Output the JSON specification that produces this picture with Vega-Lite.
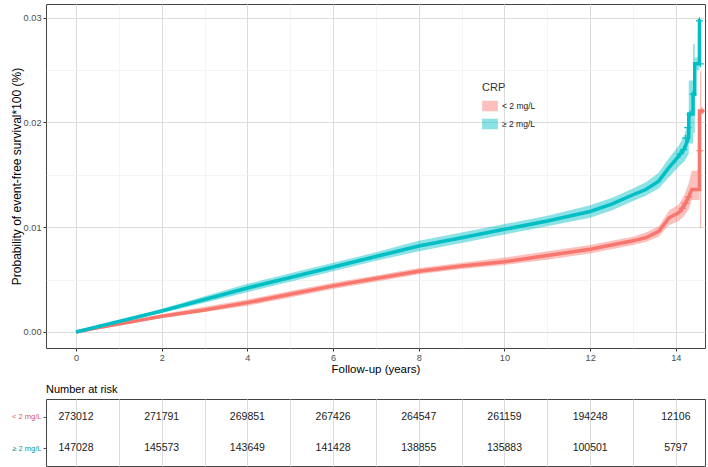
{
  "$schema": "https://vega.github.io/schema/vega-lite/v6.json",
  "background": "white",
  "padding": {"left": 9, "top": 3, "right": 1, "bottom": 0},
  "config": {
    "font": "Liberation Sans",
    "view": {"stroke": "#444444", "strokeWidth": 1},
    "axis": {"labelFont": "Liberation Sans", "titleFont": "Liberation Sans", "labelColor": "#4d4d4d", "titleColor": "#000000", "titleFontWeight": "normal", "labelFontSize": 9.2, "titleFontSize": 11.5, "tickColor": "#333333", "tickSize": 3, "labelPadding": 2, "domain": false},
    "concat": {"spacing": 7}
  },
  "datasets": {
    "curve": [
      {"group": "< 2 mg/L", "t": 0, "est": 0, "lo": 0, "hi": 0},
      {"group": "< 2 mg/L", "t": 0.5, "est": 0.0004, "lo": 0.00035, "hi": 0.00045},
      {"group": "< 2 mg/L", "t": 1, "est": 0.00075, "lo": 0.00065, "hi": 0.00085},
      {"group": "< 2 mg/L", "t": 2, "est": 0.0015, "lo": 0.0013, "hi": 0.0017},
      {"group": "< 2 mg/L", "t": 3, "est": 0.0021, "lo": 0.0019, "hi": 0.0024},
      {"group": "< 2 mg/L", "t": 4, "est": 0.0028, "lo": 0.0025, "hi": 0.0031},
      {"group": "< 2 mg/L", "t": 5, "est": 0.0036, "lo": 0.0033, "hi": 0.0039},
      {"group": "< 2 mg/L", "t": 6, "est": 0.0044, "lo": 0.0041, "hi": 0.0047},
      {"group": "< 2 mg/L", "t": 7, "est": 0.0051, "lo": 0.0048, "hi": 0.0054},
      {"group": "< 2 mg/L", "t": 8, "est": 0.0058, "lo": 0.0055, "hi": 0.0061},
      {"group": "< 2 mg/L", "t": 9, "est": 0.0063, "lo": 0.006, "hi": 0.0066},
      {"group": "< 2 mg/L", "t": 10, "est": 0.0067, "lo": 0.0064, "hi": 0.0071},
      {"group": "< 2 mg/L", "t": 11, "est": 0.0073, "lo": 0.0069, "hi": 0.0077},
      {"group": "< 2 mg/L", "t": 12, "est": 0.0079, "lo": 0.0075, "hi": 0.0083},
      {"group": "< 2 mg/L", "t": 12.5, "est": 0.0083, "lo": 0.0079, "hi": 0.0087},
      {"group": "< 2 mg/L", "t": 13, "est": 0.0087, "lo": 0.0083, "hi": 0.0091},
      {"group": "< 2 mg/L", "t": 13.3, "est": 0.009, "lo": 0.0086, "hi": 0.0095},
      {"group": "< 2 mg/L", "t": 13.6, "est": 0.0096, "lo": 0.0091, "hi": 0.0101},
      {"group": "< 2 mg/L", "t": 13.75, "est": 0.0104, "lo": 0.0098, "hi": 0.011},
      {"group": "< 2 mg/L", "t": 13.84, "est": 0.0109, "lo": 0.0102, "hi": 0.0116},
      {"group": "< 2 mg/L", "t": 14.07, "est": 0.0114, "lo": 0.0106, "hi": 0.0122},
      {"group": "< 2 mg/L", "t": 14.2, "est": 0.0121, "lo": 0.0111, "hi": 0.0131},
      {"group": "< 2 mg/L", "t": 14.3, "est": 0.0129, "lo": 0.0117, "hi": 0.0142},
      {"group": "< 2 mg/L", "t": 14.37, "est": 0.0136, "lo": 0.0126, "hi": 0.0154},
      {"group": "< 2 mg/L", "t": 14.55, "est": 0.0136, "lo": 0.0126, "hi": 0.0154},
      {"group": "< 2 mg/L", "t": 14.551, "est": 0.0211, "lo": 0.0211, "hi": 0.0211},
      {"group": "< 2 mg/L", "t": 14.66, "est": 0.0211, "lo": 0.0211, "hi": 0.0211},
      {"group": "≥ 2 mg/L", "t": 0, "est": 0, "lo": 0, "hi": 0},
      {"group": "≥ 2 mg/L", "t": 0.5, "est": 0.0005, "lo": 0.00045, "hi": 0.00055},
      {"group": "≥ 2 mg/L", "t": 1, "est": 0.001, "lo": 0.0009, "hi": 0.0011},
      {"group": "≥ 2 mg/L", "t": 2, "est": 0.002, "lo": 0.0018, "hi": 0.0022},
      {"group": "≥ 2 mg/L", "t": 3, "est": 0.0031, "lo": 0.0028, "hi": 0.0034},
      {"group": "≥ 2 mg/L", "t": 4, "est": 0.0042, "lo": 0.0038, "hi": 0.0046},
      {"group": "≥ 2 mg/L", "t": 5, "est": 0.0052, "lo": 0.0048, "hi": 0.0056},
      {"group": "≥ 2 mg/L", "t": 6, "est": 0.0062, "lo": 0.0058, "hi": 0.0066},
      {"group": "≥ 2 mg/L", "t": 7, "est": 0.0072, "lo": 0.0068, "hi": 0.0076},
      {"group": "≥ 2 mg/L", "t": 8, "est": 0.0082, "lo": 0.0077, "hi": 0.0087},
      {"group": "≥ 2 mg/L", "t": 9, "est": 0.009, "lo": 0.0085, "hi": 0.0095},
      {"group": "≥ 2 mg/L", "t": 10, "est": 0.0098, "lo": 0.0093, "hi": 0.0103},
      {"group": "≥ 2 mg/L", "t": 11, "est": 0.0106, "lo": 0.0101, "hi": 0.0111},
      {"group": "≥ 2 mg/L", "t": 12, "est": 0.0115, "lo": 0.0109, "hi": 0.0121},
      {"group": "≥ 2 mg/L", "t": 12.5, "est": 0.0122, "lo": 0.0116, "hi": 0.0128},
      {"group": "≥ 2 mg/L", "t": 13, "est": 0.0131, "lo": 0.0125, "hi": 0.0137},
      {"group": "≥ 2 mg/L", "t": 13.3, "est": 0.0136, "lo": 0.013, "hi": 0.0143},
      {"group": "≥ 2 mg/L", "t": 13.6, "est": 0.0144, "lo": 0.0137, "hi": 0.0152},
      {"group": "≥ 2 mg/L", "t": 13.84, "est": 0.0157, "lo": 0.0148, "hi": 0.0166},
      {"group": "≥ 2 mg/L", "t": 14.07, "est": 0.0168, "lo": 0.0158, "hi": 0.0178},
      {"group": "≥ 2 mg/L", "t": 14.2, "est": 0.0175, "lo": 0.0163, "hi": 0.0188},
      {"group": "≥ 2 mg/L", "t": 14.3, "est": 0.0186, "lo": 0.017, "hi": 0.0203},
      {"group": "≥ 2 mg/L", "t": 14.301, "est": 0.0208, "lo": 0.018, "hi": 0.024},
      {"group": "≥ 2 mg/L", "t": 14.4, "est": 0.0208, "lo": 0.018, "hi": 0.024},
      {"group": "≥ 2 mg/L", "t": 14.401, "est": 0.0227, "lo": 0.019, "hi": 0.0275},
      {"group": "≥ 2 mg/L", "t": 14.44, "est": 0.0227, "lo": 0.019, "hi": 0.0275},
      {"group": "≥ 2 mg/L", "t": 14.441, "est": 0.0256, "lo": 0.025, "hi": 0.0262},
      {"group": "≥ 2 mg/L", "t": 14.55, "est": 0.0256, "lo": 0.025, "hi": 0.0262},
      {"group": "≥ 2 mg/L", "t": 14.551, "est": 0.0297, "lo": 0.0297, "hi": 0.0297},
      {"group": "≥ 2 mg/L", "t": 14.58, "est": 0.0297, "lo": 0.0297, "hi": 0.0297}
    ],
    "censor": [
      {"group": "< 2 mg/L", "t": 14.15, "v": 0.0118},
      {"group": "< 2 mg/L", "t": 14.22, "v": 0.0123},
      {"group": "< 2 mg/L", "t": 14.3, "v": 0.0129},
      {"group": "< 2 mg/L", "t": 14.56, "v": 0.0173},
      {"group": "< 2 mg/L", "t": 14.61, "v": 0.0211},
      {"group": "≥ 2 mg/L", "t": 14.1, "v": 0.017},
      {"group": "≥ 2 mg/L", "t": 14.18, "v": 0.0174},
      {"group": "≥ 2 mg/L", "t": 14.23, "v": 0.0185},
      {"group": "≥ 2 mg/L", "t": 14.28, "v": 0.0195},
      {"group": "≥ 2 mg/L", "t": 14.33, "v": 0.0208},
      {"group": "≥ 2 mg/L", "t": 14.4, "v": 0.0227},
      {"group": "≥ 2 mg/L", "t": 14.55, "v": 0.0297},
      {"group": "≥ 2 mg/L", "t": 14.57, "v": 0.0256}
    ],
    "ciend": [
      {"group": "< 2 mg/L", "t": 14.58, "lo": 0.0099, "hi": 0.0249}
    ],
    "risk": [
      {"group": "< 2 mg/L", "t": 0, "n": "273012"},
      {"group": "< 2 mg/L", "t": 2, "n": "271791"},
      {"group": "< 2 mg/L", "t": 4, "n": "269851"},
      {"group": "< 2 mg/L", "t": 6, "n": "267426"},
      {"group": "< 2 mg/L", "t": 8, "n": "264547"},
      {"group": "< 2 mg/L", "t": 10, "n": "261159"},
      {"group": "< 2 mg/L", "t": 12, "n": "194248"},
      {"group": "< 2 mg/L", "t": 14, "n": "12106"},
      {"group": "≥ 2 mg/L", "t": 0, "n": "147028"},
      {"group": "≥ 2 mg/L", "t": 2, "n": "145573"},
      {"group": "≥ 2 mg/L", "t": 4, "n": "143649"},
      {"group": "≥ 2 mg/L", "t": 6, "n": "141428"},
      {"group": "≥ 2 mg/L", "t": 8, "n": "138855"},
      {"group": "≥ 2 mg/L", "t": 10, "n": "135883"},
      {"group": "≥ 2 mg/L", "t": 12, "n": "100501"},
      {"group": "≥ 2 mg/L", "t": 14, "n": "5797"}
    ]
  },
  "vconcat": [
    {
      "width": 659,
      "height": 344,
      "layer": [
        {
          "data": {"name": "curve"},
          "mark": {"type": "area", "interpolate": "linear", "opacity": 0.45},
          "encoding": {
            "x": {"field": "t", "type": "quantitative", "scale": {"domain": [-0.7, 14.68], "nice": false, "zero": false},
              "axis": {"title": "Follow-up (years)", "values": [0,1,2,3,4,5,6,7,8,9,10,11,12,13,14], "labelExpr": "datum.value % 2 === 0 ? datum.label : ''", "tickOpacity": {"condition": {"test": "datum.value % 2 !== 0", "value": 0}, "value": 1}, "gridColor": {"condition": {"test": "datum.value % 2 !== 0", "value": "#ededed"}, "value": "#dcdcdc"}, "gridWidth": {"condition": {"test": "datum.value % 2 !== 0", "value": 0.6}, "value": 1}, "titlePadding": 1}},
            "y": {"field": "lo", "type": "quantitative", "scale": {"domain": [-0.00153, 0.03131], "nice": false, "zero": false},
              "axis": {"title": "Probability of event-free survival*100 (%)", "titleFontSize": 12, "values": [0, 0.005, 0.01, 0.015, 0.02, 0.025, 0.03], "format": ".2f", "labelExpr": "round(datum.value*1000) % 10 !== 0 ? '' : datum.label", "tickOpacity": {"condition": {"test": "round(datum.value*1000) % 10 !== 0", "value": 0}, "value": 1}, "gridColor": {"condition": {"test": "round(datum.value*1000) % 10 !== 0", "value": "#ededed"}, "value": "#dcdcdc"}, "gridWidth": {"condition": {"test": "round(datum.value*1000) % 10 !== 0", "value": 0.6}, "value": 1}, "titlePadding": 0}},
            "y2": {"field": "hi"},
            "color": {"field": "group", "type": "nominal", "scale": {"domain": ["< 2 mg/L", "≥ 2 mg/L"], "range": ["#F8766D", "#00BFC4"]},
              "legend": {"orient": "none", "legendX": 436, "legendY": 78, "title": "CRP", "titleFontSize": 11, "titleFontWeight": "normal", "titleColor": "#333333", "labelFontSize": 8.5, "labelColor": "#1a1a1a", "symbolType": "M-1,-0.65H1V0.65H-1Z M-1,0H1 M0,-0.4V0.4", "symbolSize": 210, "symbolStrokeWidth": 1.2, "rowPadding": 2,
                "encode": {"symbols": {"update": {"fill": {"scale": "color", "field": "value"}, "stroke": {"scale": "color", "field": "value"}, "strokeWidth": {"value": 1.2}, "fillOpacity": {"value": 0.4}, "strokeOpacity": {"value": 1}, "opacity": {"value": 1}}}}}}
          }
        },
        {
          "data": {"name": "curve"},
          "mark": {"type": "line", "interpolate": "linear", "strokeWidth": 3.5},
          "encoding": {
            "x": {"field": "t", "type": "quantitative"},
            "y": {"field": "est", "type": "quantitative"},
            "color": {"field": "group", "type": "nominal"}
          }
        },
        {
          "data": {"name": "ciend"},
          "mark": {"type": "rule", "strokeWidth": 0.8, "opacity": 0.8},
          "encoding": {
            "x": {"field": "t", "type": "quantitative"},
            "y": {"field": "lo", "type": "quantitative"},
            "y2": {"field": "hi"},
            "color": {"field": "group", "type": "nominal"}
          }
        },
        {
          "data": {"name": "censor"},
          "mark": {"type": "point", "shape": "M-1,0H1M0,-1V1", "filled": false, "size": 50, "strokeWidth": 1.2, "opacity": 1},
          "encoding": {
            "x": {"field": "t", "type": "quantitative"},
            "y": {"field": "v", "type": "quantitative"},
            "color": {"field": "group", "type": "nominal"}
          }
        }
      ]
    },
    {
      "width": 659,
      "height": 67,
      "title": {"text": "Number at risk", "anchor": "start", "frame": "group", "fontSize": 11, "fontWeight": "normal", "color": "#000000", "offset": 4},
      "data": {"name": "risk"},
      "mark": {"type": "text", "fontSize": 10.5, "color": "#1a1a1a"},
      "encoding": {
        "x": {"field": "t", "type": "quantitative", "scale": {"domain": [-0.7, 14.68], "nice": false, "zero": false},
          "axis": {"title": null, "values": [0,1,2,3,4,5,6,7,8,9,10,11,12,13,14], "labels": false, "ticks": false, "gridColor": "#dcdcdc", "gridWidth": 1}},
        "y": {"field": "group", "type": "nominal", "scale": {"type": "point", "domain": ["< 2 mg/L", "≥ 2 mg/L"], "padding": 0.55},
          "axis": {"title": null, "labelFontSize": 7.5, "labelColor": {"condition": {"test": "datum.value === '< 2 mg/L'", "value": "#d9534f"}, "value": "#10958a"}, "gridColor": "#dcdcdc", "gridWidth": 1, "tickColor": "#555555"}},
        "text": {"field": "n", "type": "nominal"}
      }
    }
  ]
}
